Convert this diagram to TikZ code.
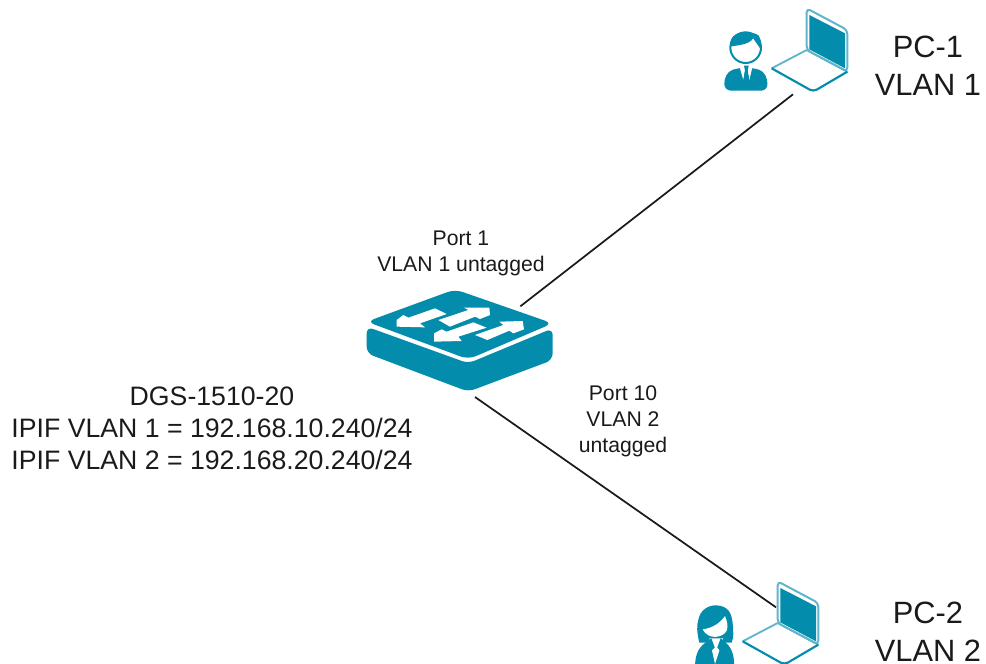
\documentclass[tikz,border=0pt]{standalone}
\usepackage{fontspec}
\setmainfont{Liberation Sans}
\definecolor{teal1}{HTML}{038CAB}
\definecolor{teal2}{HTML}{5FB5CB}
\definecolor{ink}{HTML}{1A1A1A}
\tikzset{
  big/.style={font=\fontsize{23.1pt}{28.5pt}\selectfont,align=center,text=ink,inner sep=0pt},
  mid/.style={font=\fontsize{20pt}{24pt}\selectfont,align=center,text=ink,inner sep=0pt},
  small/.style={font=\fontsize{15.9pt}{19.4pt}\selectfont,align=center,text=ink,inner sep=0pt},
  link/.style={draw=ink,line width=1.3pt},
  laptop/.pic={
    \draw[teal2,line width=1.5pt,line join=round,fill=white,rounded corners=3pt] (290,25) -- (412,90) -- (412,215) -- (290,150) -- cycle;
    \fill[teal1] (298,45) -- (405,100) -- (405,205) -- (298,148) -- cycle;
    \draw[teal2,line width=1.4pt,line join=round] (290,150) -- (185,205);
    \draw[teal2,line width=1.4pt,line join=round] (290,150) -- (412,215);
    \draw[teal1,line width=1.6pt,line join=round,rounded corners=3pt] (185,205) -- (310,275) -- (412,215);
  }
}
\begin{document}
\begin{tikzpicture}[x=0.75pt,y=-0.75pt]
\useasboundingbox (0,0) rectangle (986,664);

% switch body
\begin{scope}[shift={(340,270)},x=0.25pt,y=-0.25pt]
  \fill[teal1,rounded corners=5pt] (80,170) -- (80,250) -- (385,365) -- (638,270) -- (638,175) -- (385,280) -- cycle;
  \fill[teal1,rounded corners=6pt] (80,155) -- (345,58) -- (638,160) -- (385,268) -- cycle;
  \coordinate (swup) at (541,109);
  \coordinate (swdown) at (405,381);
\end{scope}
% switch arrows
\begin{scope}[shift={(390,295)},x=0.25pt,y=-0.25pt]
  \fill[white] (20,95) -- (105,97) -- (90,85) -- (170,57) -- (135,40) -- (55,68) -- (40,60) -- (20,75) -- cycle;
  \fill[white] (145,75) -- (235,45) -- (222,38) -- (298,38) -- (300,60) -- (270,72) -- (255,65) -- (180,95) -- cycle;
  \fill[white] (132,140) -- (215,138) -- (205,125) -- (290,98) -- (250,82) -- (170,110) -- (155,103) -- (132,115) -- cycle;
  \fill[white] (255,120) -- (340,90) -- (328,80) -- (398,78) -- (402,103) -- (370,115) -- (358,107) -- (292,135) -- cycle;
\end{scope}

% PC-1
\begin{scope}[shift={(710,0)},x=0.25pt,y=-0.25pt]
  \pic {laptop};
  \coordinate (pcone) at (249,283);
  \fill[teal1,rounded corners=5pt] (43,272) .. controls (43,235) and (50,215) .. (88,203) -- (128,203) .. controls (165,215) and (172,235) .. (173,272) -- cycle;
  \fill[white] (88,198) -- (100,240) -- (107,198) -- cycle;
  \fill[white] (128,198) -- (118,240) -- (110,198) -- cycle;
  \fill[teal1] (102,197) -- (116,197) -- (113,212) -- (118,240) -- (108,250) -- (100,240) -- (105,212) -- cycle;
  \draw[teal1,line width=1.5pt,fill=white] (107,143) circle[radius=46];
  \fill[teal1] (60,140) .. controls (58,105) and (85,95) .. (110,97) .. controls (125,98) and (140,100) .. (147,108) .. controls (155,125) and (155,135) .. (152,148) .. controls (145,135) and (135,125) .. (130,115) .. controls (115,135) and (85,135) .. (60,140) -- cycle;
\end{scope}

% PC-2
\begin{scope}[shift={(680,570)},x=0.25pt,y=-0.25pt]
  \begin{scope}[shift={(3,9)}]
    \pic {laptop};
  \end{scope}
  \coordinate (pctwo) at (288,112);
  \begin{scope}
    \clip (0,0) rectangle (200,282);
    \fill[teal1] (58,218) .. controls (50,185) and (50,165) .. (55,150) .. controls (60,120) and (85,105) .. (110,106) .. controls (145,108) and (155,130) .. (158,160) .. controls (160,185) and (162,200) .. (155,218) -- cycle;
    \fill[white] (68,178) .. controls (95,175) and (120,160) .. (135,138) .. controls (142,155) and (145,170) .. (140,182) .. controls (130,203) and (85,212) .. (68,178) -- cycle;
    \fill[teal1] (45,290) .. controls (46,250) and (55,230) .. (88,210) -- (128,210) .. controls (155,230) and (162,250) .. (163,290) -- cycle;
    \fill[white] (88,205) -- (130,205) -- (105,282) -- cycle;
    \fill[teal1] (84,212) -- (94,205) -- (104,232) -- (92,245) -- (85,232) -- (100,282) -- (80,270) -- cycle;
    \fill[teal1] (132,212) -- (122,205) -- (112,232) -- (122,245) -- (130,232) -- (110,282) -- (134,270) -- cycle;
  \end{scope}
\end{scope}

\draw[link] (swup) -- (pcone);
\draw[link] (swdown) -- (pctwo);

\node[big] (pc1label) at (928,65.5) {PC-1\\VLAN 1};
\node[big] (pc2label) at (928,631.5) {PC-2\\VLAN 2};
\node[small] (p1label) at (461,253) {Port 1\\VLAN 1 untagged};
\node[small] (p10label) at (623,421) {Port 10\\VLAN 2\\untagged};
\node[mid] (swlabel) at (212,428) {DGS-1510-20\\IPIF VLAN 1 = 192.168.10.240/24\\IPIF VLAN 2 = 192.168.20.240/24};
\end{tikzpicture}
\end{document}
